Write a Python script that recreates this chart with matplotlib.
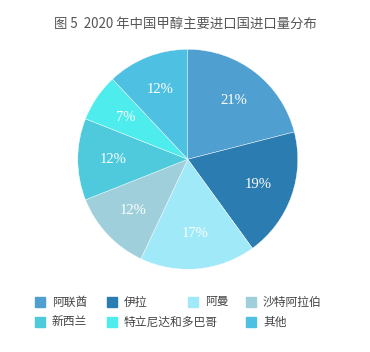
import numpy as np
import matplotlib
matplotlib.use("Agg")
import matplotlib.pyplot as plt
from matplotlib.patches import Rectangle

plt.rcParams['font.family'] = ['Noto Sans CJK SC', 'DejaVu Sans']

# 数据
countries = ['阿联酋', '伊拉', '阿曼', '沙特阿拉伯', '新西兰', '特立尼达和多巴哥', '其他']
shares = [21, 19, 17, 12, 12, 7, 12]
colors = ['#4f9fd1', '#2b7cb0', '#a0e9f8', '#9fcfda', '#4ecadc', '#4eecec', '#4ec1e3']

fig = plt.figure(figsize=(3.70, 3.52), dpi=100)
ax = fig.add_axes([0.21, 0.235, 0.595, 0.625])

wedges, texts, autotexts = ax.pie(
    shares, colors=colors, startangle=90, counterclock=False,
    autopct='%d%%', pctdistance=0.68,
    wedgeprops=dict(edgecolor='white', linewidth=0.3),
    textprops=dict(color='white', fontsize=10.5, family='Liberation Serif'))
ax.set_xlim(-1, 1)
ax.set_ylim(-1, 1)
ax.set_aspect('equal')

fig.text(0.5, 1 - 24 / 352, '图 5  2020 年中国甲醇主要进口国进口量分布',
         ha='center', va='center', fontsize=9.6, color='#555555')

# 图例 (手动排布)
W, H = 370, 352
legend_pos = [(35, 302), (107, 302), (188, 302), (246, 302),
              (35, 322), (107, 322), (246, 322)]
for (x, y), name, c in zip(legend_pos, countries, colors):
    fig.patches.append(Rectangle((x / W, (H - y - 5) / H), 10 / W, 10 / H,
                                 transform=fig.transFigure, color=c))
    fig.text((x + 17) / W, (H - y) / H, name, ha='left', va='center',
             fontsize=8.5, color='#444444')

fig.savefig('out.png', dpi=100)
